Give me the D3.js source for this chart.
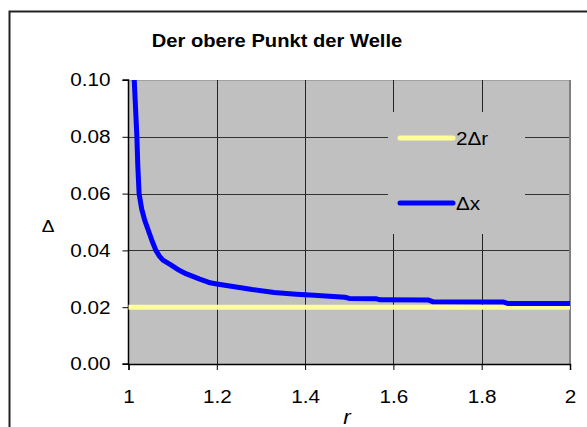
<!DOCTYPE html>
<html>
<head>
<meta charset="utf-8">
<script src="https://cdn.jsdelivr.net/npm/d3@7"></script>
<style>
  body { margin: 0; background: #fff; }
  text { font-family: "Liberation Sans", Arial, sans-serif; }
</style>
</head>
<body>
<div class="chart"></div>
<script>
// data
const rValues = [1.013, 1.016, 1.019, 1.021, 1.024, 1.030, 1.037, 1.045, 1.053, 1.062, 1.070, 1.078, 1.095, 1.115, 1.13, 1.16, 1.185, 1.2, 1.24, 1.28, 1.33, 1.38, 1.42, 1.49, 1.50, 1.56, 1.57, 1.68, 1.69, 1.85, 1.86, 2.0];
const dxValues = [0.100, 0.090, 0.080, 0.070, 0.060, 0.0545, 0.0505, 0.0470, 0.0435, 0.040, 0.038, 0.0366, 0.0350, 0.0330, 0.0318, 0.0300, 0.0286, 0.0282, 0.0272, 0.0262, 0.0252, 0.0246, 0.0242, 0.0235, 0.0231, 0.0230, 0.0226, 0.0225, 0.0219, 0.0218, 0.0213, 0.0213];
const drR = [1, 2];
const drValues = [0.02, 0.02];
const xTicks = [1, 1.2, 1.4, 1.6, 1.8, 2];
const yTicks = [0, 0.02, 0.04, 0.06, 0.08, 0.10];
const legendLabels = ['2\u0394r', '\u0394x'];
const legendColors = ['#ffff99', '#0000ff'];

const w = 587;
const h = 427;
const plot = { left: 128.5, right: 570, top: 80, bottom: 364 };
const stretch = 1.12; // the picture's type is a little wider than Arial

const svg = d3.select('.chart')
  .append('svg')
  .attr('width', w)
  .attr('height', h);

// outer frame
svg.append('rect')
  .attr('x', 9.5).attr('y', 11.5)
  .attr('width', 620).attr('height', 440)
  .attr('fill', '#fff')
  .attr('stroke', '#222')
  .attr('stroke-width', 2);

const x = d3.scaleLinear().domain([1, 2]).range([plot.left, plot.right]);
const y = d3.scaleLinear().domain([0, 0.1]).range([plot.bottom, plot.top]);

svg.append('rect')
  .attr('x', plot.left).attr('y', plot.top)
  .attr('width', plot.right - plot.left).attr('height', plot.bottom - plot.top)
  .attr('fill', '#c0c0c0');

// grid
svg.append('g')
  .selectAll('line')
  .data(yTicks.slice(1))
  .enter()
  .append('line')
  .attr('x1', plot.left).attr('x2', plot.right)
  .attr('y1', d => Math.round(y(d)) + 0.5).attr('y2', d => Math.round(y(d)) + 0.5)
  .attr('stroke', d => d === 0.1 ? '#a0a0a0' : '#333');

svg.append('g')
  .selectAll('line')
  .data(xTicks.slice(1, -1))
  .enter()
  .append('line')
  .attr('x1', d => Math.round(x(d)) + 0.5).attr('x2', d => Math.round(x(d)) + 0.5)
  .attr('y1', plot.top).attr('y2', plot.bottom)
  .attr('stroke', '#222');

svg.append('line')
  .attr('x1', plot.right).attr('x2', plot.right)
  .attr('y1', plot.top).attr('y2', plot.bottom)
  .attr('stroke', '#808080').attr('stroke-width', 2);

// axes
const xAxis = svg.append('g')
  .attr('transform', `translate(0, ${plot.bottom})`)
  .call(d3.axisBottom(x).tickValues(xTicks).tickSize(6).tickPadding(20).tickFormat(d3.format('')));
const yAxis = svg.append('g')
  .attr('transform', `translate(${plot.left}, 0)`)
  .call(d3.axisLeft(y).tickValues(yTicks).tickSize(6).tickPadding(12).tickFormat(d3.format('.2f')));

[xAxis, yAxis].forEach(a => {
  a.select('.domain').attr('stroke', '#000').attr('stroke-width', 1.5);
  a.selectAll('.tick line').attr('stroke', '#000');
  a.selectAll('.tick text')
    .attr('font-family', '"Liberation Sans", Arial, sans-serif')
    .attr('font-size', 18.5)
    .attr('fill', '#000');
});
yAxis.select('.domain').attr('d', `M-6,${plot.top}H0V${plot.bottom}H-6`);

// widen the tick labels around their anchor
xAxis.selectAll('.tick text').attr('transform', `scale(${stretch},1)`);
yAxis.selectAll('.tick text').each(function () {
  const t = d3.select(this);
  const tx = +t.attr('x');
  t.attr('transform', `translate(${tx},0) scale(${stretch},1) translate(${-tx},0)`);
});

// series
const line = d3.line().x(d => x(d[0])).y(d => y(d[1]));

svg.append('path')
  .datum(drR.map((r, i) => [r, drValues[i]]))
  .attr('d', line)
  .attr('fill', 'none')
  .attr('stroke', legendColors[0])
  .attr('stroke-width', 5);

svg.append('path')
  .datum(rValues.map((r, i) => [r, dxValues[i]]))
  .attr('d', line)
  .attr('fill', 'none')
  .attr('stroke', legendColors[1])
  .attr('stroke-width', 5)
  .attr('stroke-linejoin', 'round');

// legend
svg.append('rect')
  .attr('x', 388).attr('y', 112)
  .attr('width', 137).attr('height', 122)
  .attr('fill', '#c0c0c0');

const legend = svg.append('g')
  .selectAll('g')
  .data(legendLabels)
  .enter()
  .append('g')
  .attr('transform', (d, i) => `translate(400, ${138 + i * 65})`);

legend.append('line')
  .attr('x1', 0).attr('x2', 53)
  .attr('stroke', (d, i) => legendColors[i])
  .attr('stroke-width', 5)
  .attr('stroke-linecap', 'round');

legend.append('text')
  .attr('transform', `translate(56, 6.5) scale(${stretch},1)`)
  .attr('font-size', 18.5)
  .text(d => d);

// titles
svg.append('text')
  .attr('transform', `translate(277, 47) scale(${stretch},1)`)
  .attr('text-anchor', 'middle')
  .attr('font-weight', 'bold')
  .attr('font-size', 18)
  .text('Der obere Punkt der Welle');

svg.append('text')
  .attr('transform', `translate(48, 232) scale(${stretch},1)`)
  .attr('text-anchor', 'middle')
  .attr('font-size', 17)
  .text('\u0394');

svg.append('text')
  .attr('transform', `translate(347, 424) scale(${stretch},1)`)
  .attr('text-anchor', 'middle')
  .attr('font-style', 'italic')
  .attr('font-size', 20)
  .text('r');
</script>
</body>
</html>
